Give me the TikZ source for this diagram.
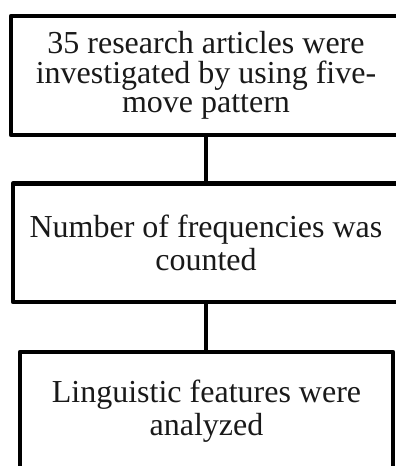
\documentclass[tikz,border=0pt]{standalone}
\usepackage{fontspec}
\setmainfont{Liberation Serif}
\begin{document}
\begin{tikzpicture}[x=1pt,y=-1pt,
  stepbox/.style={draw=black, line width=4.5pt, line join=round, fill=white,
    align=center, inner sep=0pt, text=black!90},
  link/.style={draw=black, line width=4.5pt}]
  \useasboundingbox (0,0) rectangle (396,466);
  \clip (0,0) rectangle (396,466);
  \fill[white] (0,0) rectangle (396,466);

  % three stages of the procedure
  \node[stepbox, minimum width=390pt, minimum height=119pt,
        font=\fontsize{32}{29.5}\selectfont] (b1) at (206,75.5)
    {35 research articles were\\investigated by using five-\\move pattern};
  \node[stepbox, minimum width=386pt, minimum height=118.5pt,
        font=\fontsize{32}{32.5}\selectfont] (b2) at (206,242.75)
    {Number of frequencies was\\counted};
  \node[stepbox, minimum width=373pt, minimum height=118pt,
        font=\fontsize{32}{33}\selectfont] (b3) at (206.5,411)
    {Linguistic features were\\analyzed};

  % vertical links between the stages
  \draw[link] (b1.south) -- (b2.north);
  \draw[link] (b2.south) -- (b2.south |- b3.north);
\end{tikzpicture}
\end{document}
